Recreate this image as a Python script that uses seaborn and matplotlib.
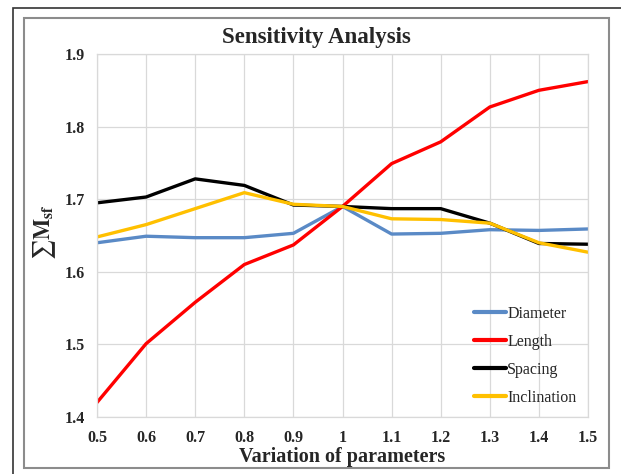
import matplotlib
matplotlib.use("Agg")
import matplotlib.pyplot as plt
import seaborn as sns
import pandas as pd
from matplotlib.patches import Rectangle

# values
variation = [0.5, 0.6, 0.7, 0.8, 0.9, 1.0, 1.1, 1.2, 1.3, 1.4, 1.5]
diameter = [1.640, 1.649, 1.647, 1.647, 1.653, 1.690, 1.652, 1.653, 1.658, 1.657, 1.659]
length = [1.420, 1.501, 1.558, 1.610, 1.637, 1.690, 1.749, 1.779, 1.827, 1.850, 1.862]
spacing = [1.695, 1.703, 1.728, 1.719, 1.692, 1.690, 1.687, 1.687, 1.667, 1.639, 1.638]
inclination = [1.648, 1.665, 1.687, 1.709, 1.693, 1.690, 1.673, 1.672, 1.667, 1.640, 1.627]

series_names = ["Diameter", "Length", "Spacing", "Inclination"]
colors = ["#5a8ac6", "#ff0000", "#000000", "#ffc000"]

df = pd.DataFrame({
    "x": variation * 4,
    "y": diameter + length + spacing + inclination,
    "series": sum([[n] * len(variation) for n in series_names], []),
})

sns.set_style("white")
plt.rcParams["font.family"] = ["Liberation Serif", "DejaVu Serif"]
plt.rcParams["mathtext.fontset"] = "stix"

fig = plt.figure(figsize=(6.21, 4.74), dpi=100)
ax = fig.add_axes([97 / 621, 1 - 417 / 474, (588 - 97) / 621, (417 - 54) / 474])

sns.lineplot(data=df, x="x", y="y", hue="series", hue_order=series_names,
             palette=colors, linewidth=2.4, ax=ax)

ax.set_xlim(0.5, 1.5)
ax.set_ylim(1.4, 1.9)
ax.set_xticks(variation)
ax.set_xticklabels(["0.5", "0.6", "0.7", "0.8", "0.9", "1", "1.1", "1.2", "1.3", "1.4", "1.5"])
ax.set_yticks([1.4, 1.5, 1.6, 1.7, 1.8, 1.9])
ax.set_yticklabels(["1.4", "1.5", "1.6", "1.7", "1.8", "1.9"])
ax.tick_params(length=0, labelsize=11.5, pad=9)
for lab in ax.get_xticklabels() + ax.get_yticklabels():
    lab.set_fontweight("bold")
ax.grid(True, color="#d9d9d9", linewidth=0.9)
ax.set_axisbelow(True)
for sp in ax.spines.values():
    sp.set_color("#d9d9d9")
    sp.set_linewidth(0.9)

ax.set_xlabel("Variation of parameters", fontsize=14.5, fontweight="bold", labelpad=1)
ax.set_ylabel(r"$\sum\mathbf{M}_{\mathbf{sf}}$", fontsize=16)
ax.yaxis.set_label_coords(-0.08, 0.51)
fig.text(316 / 621, 1 - 37 / 474, "Sensitivity Analysis", fontsize=16.5,
         fontweight="bold", ha="center", va="center")

leg = ax.legend(loc="lower right", bbox_to_anchor=(1.006, -0.008), frameon=False,
                fontsize=11.5, handlelength=2.0, handletextpad=0.1,
                labelspacing=0.75)
for line in leg.get_lines():
    line.set_linewidth(3)

# chart frames
fig.patches.append(Rectangle((13 / 621, -0.05), 1.1, 1 - 8 / 474 + 0.05,
                             transform=fig.transFigure, fill=False,
                             edgecolor="#333333", linewidth=1.2))
fig.patches.append(Rectangle((24 / 621, 1 - 468 / 474), (609 - 24) / 621, (468 - 18) / 474,
                             transform=fig.transFigure, fill=False,
                             edgecolor="#8c8c8c", linewidth=1.5))

fig.savefig("out.png", dpi=100)
